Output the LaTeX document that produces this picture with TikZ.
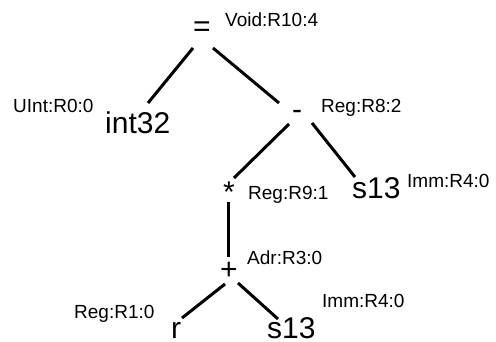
\documentclass[tikz,border=0pt]{standalone}
\usepackage{fontspec}
\setmainfont{Liberation Sans}
\usetikzlibrary{calc}
\tikzset{
  lbl/.style={inner sep=0pt, anchor=base west, font=\fontsize{19}{22}\selectfont},
  big/.style={inner sep=0pt, anchor=base west, font=\fontsize{30}{36}\selectfont},
  op/.style={inner sep=0pt, anchor=center, font=\fontsize{30}{36}\selectfont},
  edge/.style={line width=3pt, black}
}
\begin{document}
\begin{tikzpicture}[x=1pt,y=-1pt]
\useasboundingbox (0,0) rectangle (496,341);
% operator nodes
\node[op] (eq) at (202,29) {=};
\node[op] (minus) at (297,115) {-};
\node[op] (star) at (229,192) {*};
\node[op] (plus) at (229,271) {+};
% leaves
\node[big] (int) at (105,133) {int32};
\node[big] (s13a) at (352,198) {s13};
\node[big] (r) at (171,338) {r};
\node[big] (s13b) at (267,338) {s13};
% labels
\node[lbl] (l1) at (225,26) {Void:R10:4};
\node[lbl] (l2) at (13,112) {UInt:R0:0};
\node[lbl] (l3) at (321,112) {Reg:R8:2};
\node[lbl] (l4) at (248,199) {Reg:R9:1};
\node[lbl] (l5) at (407,187) {Imm:R4:0};
\node[lbl] (l6) at (247,264) {Adr:R3:0};
\node[lbl] (l7) at (322,307) {Imm:R4:0};
\node[lbl] (l8) at (74,318) {Reg:R1:0};
% connectors
\draw[edge] ($(eq.center)+(-9,19)$) -- ($(int.base west)+(43,-30)$);
\draw[edge] ($(eq.center)+(11,19)$) -- ($(minus.center)+(-18,-12)$);
\draw[edge] ($(minus.center)+(-8,9)$) -- ($(star.center)+(5,-14)$);
\draw[edge] ($(minus.center)+(15,8)$) -- ($(s13a.base west)+(3,-21)$);
\draw[edge] ($(star.center)+(-1,10)$) -- ($(plus.center)+(-1,-14)$);
\draw[edge] ($(plus.center)+(-4,13)$) -- ($(r.base west)+(11,-20)$);
\draw[edge] ($(plus.center)+(9,12)$) -- ($(s13b.base west)+(11,-19)$);
\end{tikzpicture}
\end{document}
